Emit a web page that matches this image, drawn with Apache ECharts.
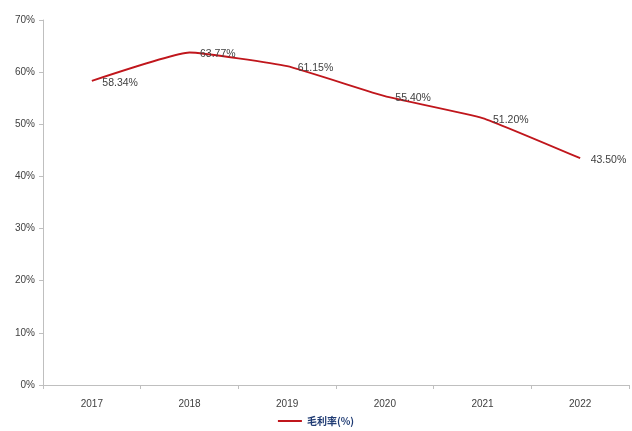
<!DOCTYPE html>
<html><head><meta charset="utf-8">
<script src="https://cdn.jsdelivr.net/npm/echarts@6/dist/echarts.min.js"></script>
<style>html,body{margin:0;padding:0;background:#fff}#c{width:632px;height:431px}</style>
</head><body><div id="c"></div>
<script>
const categories = ['2017','2018','2019','2020','2021','2022'];
const grossMargin = [58.34, 63.77, 61.15, 55.40, 51.20, 43.50];
const seriesName = '毛利率(%)';
const chart = echarts.init(document.getElementById('c'));
chart.setOption({
  animation: false,
  grid: {left: 43, right: 3, top: 20, bottom: 46},
  legend: {
    bottom: 0, left: 'center', itemWidth: 24, itemHeight: 10,
    icon: 'path://M0,4 L24,4 L24,6 L0,6 Z',
    itemStyle: {color: '#c0161c'},
    textStyle: {color: '#1f3b73', fontSize: 10, fontWeight: 'bold', fontFamily: 'Noto Sans CJK SC'},
    data: [seriesName]
  },
  xAxis: {
    type: 'category', data: categories, boundaryGap: true,
    axisLine: {lineStyle: {color: '#bfbfbf'}},
    axisTick: {show: true, alignWithLabel: false, lineStyle: {color: '#bfbfbf'}, length: 4},
    axisLabel: {color: '#404040', fontSize: 10, margin: 14, fontFamily: 'Liberation Sans'}
  },
  yAxis: {
    type: 'value', min: 0, max: 70, interval: 10,
    axisLine: {show: true, lineStyle: {color: '#bfbfbf'}},
    axisTick: {show: true, lineStyle: {color: '#bfbfbf'}, length: 4},
    splitLine: {show: false},
    axisLabel: {formatter: '{value}%', color: '#404040', fontSize: 10, margin: 8, fontFamily: 'Liberation Sans'}
  },
  series: [{
    name: seriesName, type: 'line', data: grossMargin, smooth: 0.12,
    symbol: 'circle', symbolSize: 1, showSymbol: true,
    lineStyle: {color: '#c0161c', width: 1.8}, itemStyle: {color: 'rgba(0,0,0,0)'},
    emphasis: {disabled: true},
    label: {show: true, position: 'right', distance: 10, offset: [0, 2], color: '#404040', fontSize: 10.5,
      fontFamily: 'Liberation Sans', formatter: p => p.value.toFixed(2) + '%'}
  }]
});
</script></body></html>
